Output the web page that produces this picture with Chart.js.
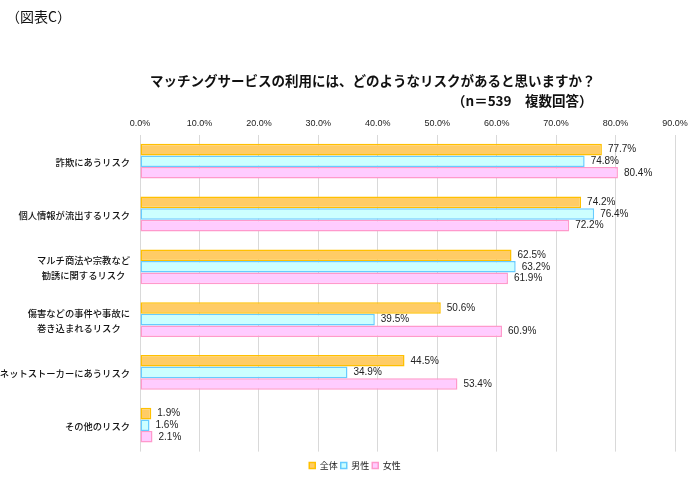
<!DOCTYPE html>
<html>
<head>
<meta charset="utf-8">
<script src="https://cdn.jsdelivr.net/npm/chart.js@4/dist/chart.umd.min.js"></script>
<style>
  body { margin: 0; background: #fff; }
  #wrap { position: relative; width: 700px; height: 489px; }
  .txt { position: absolute; font-family: "Noto Sans CJK JP", sans-serif; color: #111; white-space: nowrap; }
</style>
</head>
<body>
<div id="wrap">
  <canvas id="myChart" width="700" height="489"></canvas>
  <div class="txt" style="left:6px;top:6px;font-size:14px;">（図表C）</div>
  <div class="txt" style="left:150px;top:70px;font-size:13.5px;font-weight:bold;">マッチングサービスの利用には、どのようなリスクがあると思いますか？</div>
  <div class="txt" style="left:452px;top:90px;font-size:13.5px;font-weight:bold;">（n＝539　複数回答）</div>
</div>
<script>
var categories = [
  '詐欺にあうリスク',
  '個人情報が流出するリスク',
  ['マルチ商法や宗教など', '勧誘に関するリスク'],
  ['傷害などの事件や事故に', '巻き込まれるリスク'],
  'ネットストーカーにあうリスク',
  'その他のリスク'
];
var seriesNames = ['全体', '男性', '女性'];
var allValues = [77.7, 74.2, 62.5, 50.6, 44.5, 1.9];
var maleValues = [74.8, 76.4, 63.2, 39.5, 34.9, 1.6];
var femaleValues = [80.4, 72.2, 61.9, 60.9, 53.4, 2.1];
var xMax = 90;
var xStep = 10;

var jpFont = '"Noto Sans CJK JP", sans-serif';

// value labels after each bar
var valueLabels = {
  id: 'valueLabels',
  afterDatasetsDraw: function (chart) {
    var ctx = chart.ctx;
    ctx.save();
    ctx.font = '10px "Liberation Sans", sans-serif';
    ctx.fillStyle = '#222';
    ctx.textAlign = 'left';
    ctx.textBaseline = 'middle';
    chart.data.datasets.forEach(function (ds, i) {
      chart.getDatasetMeta(i).data.forEach(function (bar, j) {
        ctx.fillText(ds.data[j].toFixed(1) + '%', bar.x + 6, bar.y);
      });
    });
    ctx.restore();
  }
};

// category labels, block right aligned, lines centered
var categoryLabels = {
  id: 'categoryLabels',
  afterDraw: function (chart) {
    var ctx = chart.ctx;
    var y = chart.scales.y;
    ctx.save();
    ctx.font = '500 9.3px ' + jpFont;
    ctx.fillStyle = '#111';
    ctx.textAlign = 'center';
    ctx.textBaseline = 'middle';
    categories.forEach(function (c, i) {
      var lines = Array.isArray(c) ? c : [c];
      var w = 0;
      lines.forEach(function (l) { w = Math.max(w, ctx.measureText(l).width); });
      var cx = 130 - w / 2;
      var cy = y.getPixelForValue(i) + 1;
      var lh = 15;
      lines.forEach(function (l, k) {
        ctx.fillText(l, cx, cy + (k - (lines.length - 1) / 2) * lh);
      });
    });
    ctx.restore();
  }
};

var ctx = document.getElementById('myChart').getContext('2d');
var chart = new Chart(ctx, {
  type: 'bar',
  data: {
    labels: categories,
    datasets: [{
      label: seriesNames[0],
      data: allValues,
      backgroundColor: '#FFCC66',
      borderColor: '#FFC000',
      borderWidth: 1.5
    }, {
      label: seriesNames[1],
      data: maleValues,
      backgroundColor: '#CCFFFF',
      borderColor: '#66CCFF',
      borderWidth: 1.5
    }, {
      label: seriesNames[2],
      data: femaleValues,
      backgroundColor: '#FFCCFF',
      borderColor: '#FF99CC',
      borderWidth: 1.5
    }]
  },
  options: {
    indexAxis: 'y',
    responsive: false,
    animation: false,
    datasets: {
      bar: { categoryPercentage: 0.66, barPercentage: 1.0, borderSkipped: false }
    },
    layout: { padding: { left: 35, right: 25, top: 112, bottom: 9 } },
    scales: {
      x: {
        position: 'top',
        min: 0,
        max: xMax,
        ticks: {
          stepSize: xStep,
          padding: 6,
          color: '#222',
          font: { family: '"Liberation Sans", sans-serif', size: 9 },
          callback: function (v) { return v.toFixed(1) + '%'; }
        },
        grid: { color: '#d9d9d9', lineWidth: 1, drawTicks: false },
        border: { display: false }
      },
      y: {
        ticks: { display: false },
        grid: { display: false },
        border: { display: false },
        afterFit: function (scale) { scale.width = 105; }
      }
    },
    plugins: {
      legend: {
        position: 'bottom',
        title: { display: true, text: ' ', font: { size: 2 }, padding: { top: 4, bottom: 0 } },
        labels: {
          boxWidth: 6,
          boxHeight: 6,
          padding: 3,
          color: '#222',
          font: { family: jpFont, size: 9 }
        }
      },
      tooltip: { enabled: false }
    }
  },
  plugins: [valueLabels, categoryLabels]
});
</script>
</body>
</html>
